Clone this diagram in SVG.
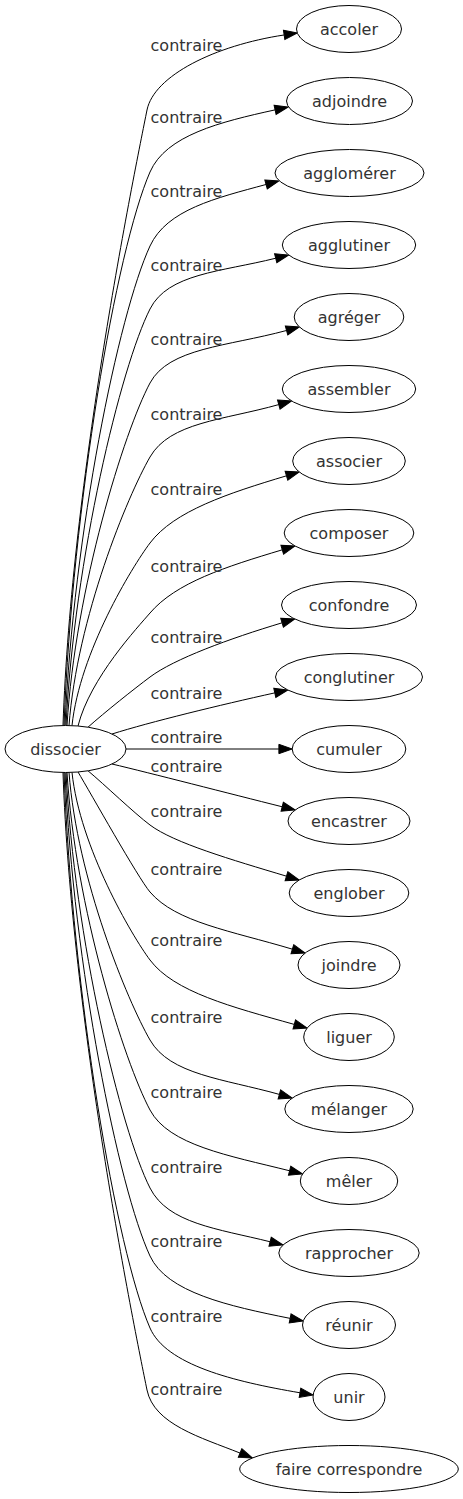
<svg xmlns="http://www.w3.org/2000/svg" width="463" height="1499" viewBox="0 0 463 1499">
<style>
.n ellipse{fill:#fff;stroke:#000;stroke-width:1}
text{font-family:"DejaVu Sans","Liberation Sans",sans-serif;font-size:16px;fill:#333}
.n text{text-anchor:middle}
.e path{fill:none;stroke:#000;stroke-width:1;marker-end:url(#ah)}
.e text{text-anchor:middle}
</style>
<defs>
<marker id="ah" markerWidth="15" markerHeight="11" refX="0" refY="5" orient="auto" markerUnits="userSpaceOnUse" overflow="visible">
<path d="M0,0.33 L13.3,5 L0,9.67 Z" fill="#000" stroke="#000" stroke-width="1"/>
</marker>
</defs>
<rect width="463" height="1499" fill="#fff"/>
<g id="edges" class="e">
<path d="M63,725.5 C71.4,479 135,170 147,110 C154,75.7 214.9,45.4 284.15,34.97"/>
<text x="186.5" y="50.7">contraire</text>
<path d="M64,725.5 C72.6,504 116,250.2 150,172 C166,135.2 220.4,121.9 275.11,109.86"/>
<text x="186.5" y="123.3">contraire</text>
<path d="M65,725.5 C73.5,533.4 118.5,314.3 150,246 C166.8,209.6 215.9,198.1 266.06,184.47"/>
<text x="186.5" y="197.3">contraire</text>
<path d="M66,725.5 C74.4,558.6 120.75,366.9 150,309 C168,273.4 220.8,271.9 275.7,258.23"/>
<text x="186.5" y="270.7">contraire</text>
<path d="M67,725.5 C75.3,588.2 124.2,431.4 150,383 C168.8,347.8 227.2,346.5 286.56,330.47"/>
<text x="186.5" y="345.3">contraire</text>
<path d="M69,725.6 C77.1,617.8 127.5,496.2 150,457 C170,422.2 223,420.2 278.79,404.59"/>
<text x="186.5" y="420">contraire</text>
<path d="M72,725.6 C79.8,652.3 132,567 150,543 C174,511 228.1,493.3 286.46,475.82"/>
<text x="186.5" y="495.3">contraire</text>
<path d="M78,726 C90,678 138.3,626.7 150,613 C176,582.6 225.3,566.9 282.26,549.82"/>
<text x="186.5" y="571.7">contraire</text>
<path d="M88,727.2 C105,712 134,689 150,677 C174,659 229.4,638.6 282.06,622.82"/>
<text x="186.5" y="642.7">contraire</text>
<path d="M112,734 C150,722 220,705 274.81,692.86"/>
<text x="186.5" y="699.3">contraire</text>
<path d="M126,749 L278.9,749"/>
<text x="186.5" y="743.3">contraire</text>
<path d="M112,764 C150,773 229.8,793.7 282.2,806.77"/>
<text x="186.5" y="771.7">contraire</text>
<path d="M88,770.8 C105,785 134,813 150,825 C174,843 231.9,859.8 286.46,876.18"/>
<text x="186.5" y="817.3">contraire</text>
<path d="M78,772 C90,792 138.3,878.3 150,892 C176,922.4 231.1,930.8 292.36,949.18"/>
<text x="186.5" y="875.3">contraire</text>
<path d="M72,772.4 C79.8,847.1 132,936 150,960 C174,992 231.7,1006.9 294.29,1024.41"/>
<text x="186.5" y="946">contraire</text>
<path d="M69,772.4 C77.1,879.2 127.5,1000.9 150,1040 C170,1074.8 223.6,1078.8 279.39,1094.41"/>
<text x="186.5" y="1022.7">contraire</text>
<path d="M67,772.5 C75.3,907.2 124.2,1061.6 150,1110 C168.8,1145.2 228.5,1155.5 289.6,1170.77"/>
<text x="186.5" y="1098.3">contraire</text>
<path d="M66,772.5 C74.4,938.4 120.75,1130.2 150,1188 C168,1223.6 217.7,1228.7 270.1,1241.77"/>
<text x="186.5" y="1172.7">contraire</text>
<path d="M65,772.5 C73.5,965.6 118.5,1187.75 150,1256 C166.8,1292.4 228.4,1306 290.16,1318.39"/>
<text x="186.5" y="1246.7">contraire</text>
<path d="M64,772.5 C72.6,994.4 116,1249.8 150,1328 C166,1364.8 233.5,1381.5 299.99,1392.77"/>
<text x="186.5" y="1322.3">contraire</text>
<path d="M63,772.5 C71.4,1019 134.6,1329.2 147,1390 C154,1424.3 201,1437.5 240.05,1453.06"/>
<text x="186.5" y="1395.3">contraire</text>
</g>
<g id="dissocier" class="n"><ellipse cx="65.5" cy="749" rx="60.5" ry="23.5"/><text x="65.5" y="754.5">dissocier</text></g>
<g id="accoler" class="n"><ellipse cx="349" cy="29" rx="52.5" ry="23.5"/><text x="349" y="34.5">accoler</text></g>
<g id="adjoindre" class="n"><ellipse cx="349.5" cy="101" rx="63" ry="23.5"/><text x="349.5" y="106.5">adjoindre</text></g>
<g id="agglomerer" class="n"><ellipse cx="349.5" cy="173" rx="74.5" ry="23.5"/><text x="349.5" y="178.5">agglomérer</text></g>
<g id="agglutiner" class="n"><ellipse cx="349" cy="245" rx="66.7" ry="23.5"/><text x="349" y="250.5">agglutiner</text></g>
<g id="agreger" class="n"><ellipse cx="349" cy="317" rx="54.8" ry="23.5"/><text x="349" y="322.5">agréger</text></g>
<g id="assembler" class="n"><ellipse cx="349" cy="389" rx="66.7" ry="23.5"/><text x="349" y="394.5">assembler</text></g>
<g id="associer" class="n"><ellipse cx="349" cy="461" rx="56.3" ry="23.5"/><text x="349" y="466.5">associer</text></g>
<g id="composer" class="n"><ellipse cx="349" cy="533" rx="64.8" ry="23.5"/><text x="349" y="538.5">composer</text></g>
<g id="confondre" class="n"><ellipse cx="349" cy="605" rx="67.5" ry="23.5"/><text x="349" y="610.5">confondre</text></g>
<g id="conglutiner" class="n"><ellipse cx="349" cy="677" rx="73.5" ry="23.5"/><text x="349" y="682.5">conglutiner</text></g>
<g id="cumuler" class="n"><ellipse cx="349" cy="749" rx="56.8" ry="23.5"/><text x="349" y="754.5">cumuler</text></g>
<g id="encastrer" class="n"><ellipse cx="349" cy="821" rx="61" ry="23.5"/><text x="349" y="826.5">encastrer</text></g>
<g id="englober" class="n"><ellipse cx="349" cy="893" rx="59.8" ry="23.5"/><text x="349" y="898.5">englober</text></g>
<g id="joindre" class="n"><ellipse cx="349" cy="965" rx="51" ry="23.5"/><text x="349" y="970.5">joindre</text></g>
<g id="liguer" class="n"><ellipse cx="349" cy="1037" rx="45.3" ry="23.5"/><text x="349" y="1042.5">liguer</text></g>
<g id="melanger" class="n"><ellipse cx="349" cy="1109" rx="64.2" ry="23.5"/><text x="349" y="1114.5">mélanger</text></g>
<g id="meler" class="n"><ellipse cx="349" cy="1181" rx="48.7" ry="23.5"/><text x="349" y="1186.5">mêler</text></g>
<g id="rapprocher" class="n"><ellipse cx="349" cy="1253" rx="70.2" ry="23.5"/><text x="349" y="1258.5">rapprocher</text></g>
<g id="reunir" class="n"><ellipse cx="349" cy="1325" rx="46.5" ry="23.5"/><text x="349" y="1330.5">réunir</text></g>
<g id="unir" class="n"><ellipse cx="349" cy="1397" rx="36" ry="23.5"/><text x="349" y="1402.5">unir</text></g>
<g id="faire_correspondre" class="n"><ellipse cx="349" cy="1469" rx="109.3" ry="23.5"/><text x="349" y="1474.5">faire correspondre</text></g>
</svg>
